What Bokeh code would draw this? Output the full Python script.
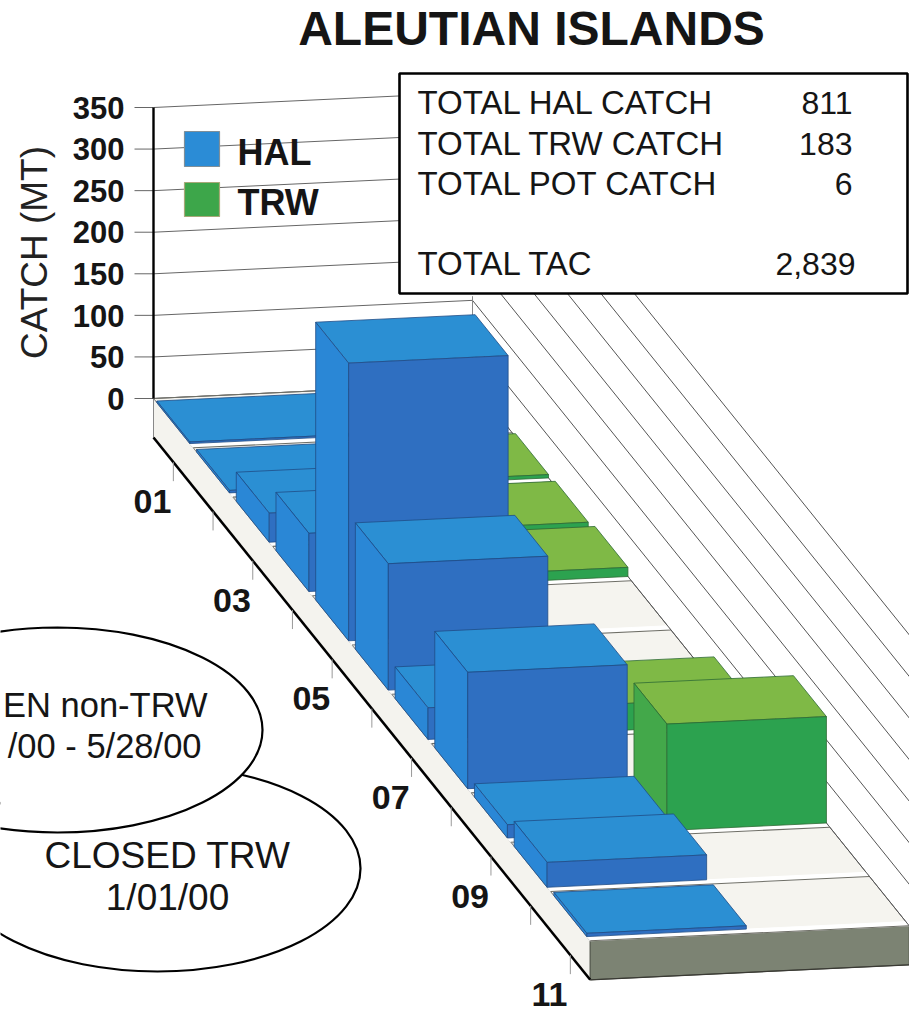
from math import pi
from bokeh.plotting import figure
from bokeh.models import Range1d
from bokeh.core.properties import value
from bokeh.embed import file_html
from bokeh.resources import INLINE

# ---- data ----
weeks = ["01", "02", "03", "04", "05", "06", "07", "08", "09", "10", "11"]
hal = [2, 3, 35, 70, 334, 152, 38, 140, 16, 30, 4]
trw = [0, 4, 6, 11, 0, 0, 32, 0, 128, 0, 0]
y_ticks = [0, 50, 100, 150, 200, 250, 300, 350]
week_labels = {"01": 0, "03": 2, "05": 4, "07": 6, "09": 8, "11": 10}
summary_labels = ["TOTAL HAL CATCH", "TOTAL TRW CATCH", "TOTAL POT CATCH", "TOTAL TAC"]
summary_values = ["811", "183", "6", "2,839"]

# ---- projection of the 3-D chart onto the page ----
W, H = 909, 1015
OX, OY = 153.0, 398.0          # back-left floor corner
DX, DY = 39.7, 49.3            # one week along the depth
WX, WY = 319.0, -15.0          # whole width of the floor
VY = 291.0 / 350.0             # px per MT
INSET = 0.085
THICK = 39.0
FONT = value("Liberation Sans")


def P(row, col, v=0.0):
    return (OX + row * DX + col * WX, OY + row * DY + col * WY - v * VY)


def poly(*pts):
    return [p[0] for p in pts], [p[1] for p in pts]


p = figure(width=W, height=H, x_range=Range1d(0, W), y_range=Range1d(H, 0),
           output_backend="svg", toolbar_location=None, min_border=0,
           background_fill_color="white", border_fill_color="white", outline_line_color=None)
p.xaxis.visible = False
p.yaxis.visible = False
p.grid.visible = False

n = len(weeks)


def seg(a, b, color="#4a4a4a", width=1.0):
    p.line([a[0], b[0]], [a[1], b[1]], line_color=color, line_width=width)


# wall grid lines (behind everything)
for v in y_ticks:
    a, b = P(0, 0, v), P(0, 1, v)
    seg((134, a[1]), a, "#666666", 1.0)
    seg(a, b, "#666666", 1.0)
    if v > 0:
        seg(b, P(n + 2, 1, v), "#555555", 1.0)
seg(P(0, 1, 0), P(0, 1, 105), "#888888", 1.0)

# floor and its edges
xs, ys, fills, lines = [], [], [], []


def add(pts, fill, line):
    x, y = poly(*pts)
    xs.append(x); ys.append(y); fills.append(fill); lines.append(line)


add([P(0, 0), P(n, 0), P(n, 1), P(0, 1)], "#f5f4ef", "#777777")
add([P(0, 0), P(n, 0), (P(n, 0)[0], P(n, 0)[1] + THICK), (P(0, 0)[0], P(0, 0)[1] + THICK)], "#f4f3ee", "#888888")
add([P(n, 0), P(n, 1), (P(n, 1)[0], P(n, 1)[1] + THICK), (P(n, 0)[0], P(n, 0)[1] + THICK)], "#7c8373", "#4d5246")
for k in range(1, n + 1):
    add([P(k - INSET, 0), P(k, 0), P(k, 1), P(k - INSET, 1)], "#ffffff", "#ffffff")
p.patches(xs, ys, fill_color=fills, line_color=lines, line_width=1.0)

for k in range(n + 1):
    seg(P(k, 0), P(k, 1), "#6e6e66", 1.1)
seg(P(0, 1), P(n, 1), "#555555", 1.0)
bl0 = (P(0, 0)[0], P(0, 0)[1] + THICK)
bln = (P(n, 0)[0], P(n, 0)[1] + THICK)
seg(bl0, bln, "#000000", 2.6)
seg(bln, (P(n, 1)[0], P(n, 1)[1] + THICK), "#3a3a34", 1.2)
seg(P(0, 0), P(0, 0, 350), "#000000", 2.4)

# week ticks under the floor
for k in range(n):
    base = P(k + 0.5, 0)
    seg((base[0], base[1] + THICK), (base[0], base[1] + THICK + 19), "#999999", 1.0)

# bars, painted from back to front
HAL_C = ("#2b8fd3", "#2a87d6", "#2f6fc1", "#1f4c86")
TRW_C = ("#7fb946", "#43a84a", "#2ca24f", "#2f6b35")
xs, ys, fills, lines = [], [], [], []
for row in range(n):
    for vals, c0, c1, cols in ((trw, 0.5, 1.0, TRW_C), (hal, 0.0, 0.5, HAL_C)):
        v = vals[row]
        if v <= 0:
            continue
        r0, r1 = row + INSET, row + 1 - INSET
        add([P(r0, c0, v), P(r0, c1, v), P(r1, c1, v), P(r1, c0, v)], cols[0], cols[3])
        add([P(r0, c0), P(r1, c0), P(r1, c0, v), P(r0, c0, v)], cols[1], cols[3])
        add([P(r1, c0), P(r1, c1), P(r1, c1, v), P(r1, c0, v)], cols[2], cols[3])
p.patches(xs, ys, fill_color=fills, line_color=lines, line_width=0.8)

BASE_FIX = 0.35   # the svg text sits this many ems lower than its anchor


def txt(x, y, s, size, bold=False, align="left", color="#151515", angle=0.0):
    if angle:
        x = x - BASE_FIX * size
    else:
        y = y - BASE_FIX * size
    p.text([x], [y], text=[s], text_font=FONT, text_font_size=f"{size}px",
           text_font_style="bold" if bold else "normal", text_align=align,
           text_baseline="alphabetic", text_color=color, angle=angle)


# title, axis labels
txt(531, 45, "ALEUTIAN ISLANDS", 48, True, "center")
for v in y_ticks:
    txt(124, P(0, 0, v)[1] + 11, str(v), 31, True, "right")
txt(47, 252, "CATCH (MT)", 37, False, "center", "#222222", pi / 2)
for s, k in week_labels.items():
    x = P(k, 0)[0] - 1
    txt(x, P(k, 0)[1] + 115, s, 34, True, "center")

# legend
p.quad(left=[184, 184], right=[219, 219], top=[131, 182], bottom=[166, 216],
       fill_color=["#2b8cd6", "#3da64a"], line_color=["#7f8f99", "#a8a878"], line_width=1.2)
txt(237, 165, "HAL", 36, True)
txt(237, 215, "TRW", 36, True)

# summary box
p.quad(left=[399], right=[907], top=[73], bottom=[293], fill_color="white",
       line_color="#000000", line_width=2.6)
for s, val, base, right in zip(summary_labels, summary_values, [114, 155, 195, 275], [852, 852, 852, 855]):
    txt(417, base, s, 33)
    txt(right, base, val, 32, False, "right")

# notes
p.ellipse([157], [868], width=[406], height=[206], fill_color="white",
          line_color="#000000", line_width=2.2)
p.ellipse([57], [729.5], width=[410], height=[205], fill_color="white",
          line_color="#000000", line_width=2.2)
txt(207, 717, "EN non-TRW", 34.5, False, "right")
txt(201, 758, "/00 - 5/28/00", 34.5, False, "right")
txt(167, 868, "CLOSED TRW", 37, False, "center")
txt(167, 910, "1/01/00", 37, False, "center")

open("out.html", "w").write(file_html(p, INLINE))
